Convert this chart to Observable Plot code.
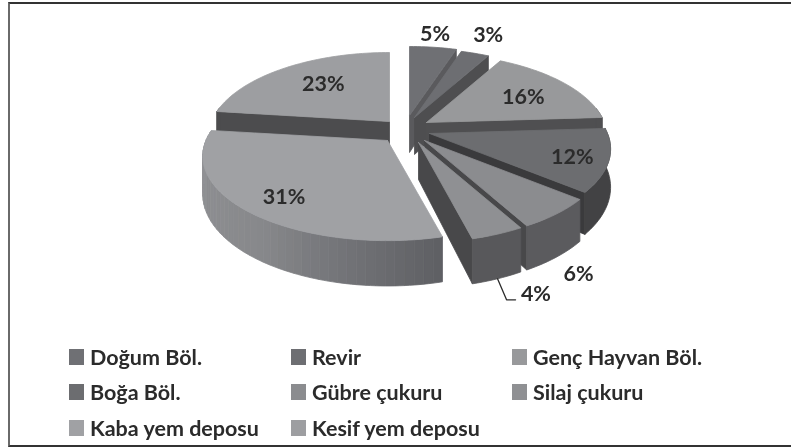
<!DOCTYPE html>
<html>
<head>
<meta charset="utf-8">
<script src="https://cdn.jsdelivr.net/npm/d3@7"></script>
<script src="https://cdn.jsdelivr.net/npm/@observablehq/plot@0.6"></script>
<style>
html,body{margin:0;padding:0;background:#fff;width:791px;height:448px;overflow:hidden;position:relative;font-family:Lato,"Open Sans",sans-serif}
#frame{position:absolute;left:8px;top:2px;right:-4px;height:441px;border:2px solid #333;border-left-color:#6a6a6a;box-sizing:content-box}
#chart{position:absolute;left:0;top:0;filter:blur(0.45px)}
#legend{position:absolute;left:69px;top:339px;display:grid;grid-template-columns:222px 221px 200px;grid-auto-rows:35.5px;color:#2b2b2b;font-weight:700;font-size:21.5px;filter:blur(0.35px)}
#legend .it{display:flex;align-items:center;white-space:nowrap}
#legend .sw{width:15px;height:16px;margin-right:6px;flex:none}
</style>
</head>
<body>
<div id="frame"></div>
<div id="chart"></div>
<div id="legend"></div>
<script>
const categories = ["Doğum Böl.","Revir","Genç Hayvan Böl.","Boğa Böl.","Gübre çukuru","Silaj çukuru","Kaba yem deposu","Kesif yem deposu"];
const shares = [5,3,16,12,6,4,31,23];
const topColors = ["#6f7074","#6d6e72","#98999b","#6c6d70","#8b8c8f","#8f9093","#a0a1a4","#9d9ea1"];
const radialColors = ["#5a5a5d","#4e4e50","#4f4f51","#3a3a3c","#48484a","#48484a","#77787b","#4c4c4e"];
const arcColors = ["#5a5a5d","#4e4e50","#4f4f51","#424244","#5b5b5e","#58585b",null,"#4c4c4e"];
const apexX = [409,414,426,429,424,418,387,389];
const apexY = [115,117,122,133,140,142,140,121];
const radiusScale = [1,1,1,1,1,1,1.02,1];
const labelNudgeX = [10,34,9,34,77,72,-22,1];
const labelNudgeY = [-36,-40,0,7,91,99,15,-2];
const paintOrder = [7,0,1,2,3,4,5,6];

const RX = 178, RY = 81.7, PERSP = 0.184, DEPTH = 37;
function project(i, deg, r = 1, depth = 0) {
  const t = deg * Math.PI / 180;
  const f = 1 / (1 + PERSP * r * Math.cos(t));
  return {
    x: apexX[i] + r * Math.sin(t) * RX * radiusScale[i] * f,
    y: apexY[i] - r * Math.cos(t) * RY * f + depth * f
  };
}
const cum = d3.cumsum(shares);
const startDeg = i => (i ? cum[i - 1] : 0) * 3.6;
const endDeg = i => cum[i] * 3.6;
const arc = (i, a, b, depth) => d3.range(0, 1.0001, 1 / Math.max(2, Math.ceil((b - a) / 1.5)))
  .map(u => project(i, a + (b - a) * u, 1, depth));
const poly = (pts, fill) => Plot.line([...pts, pts[0]], {x: "x", y: "y", fill, stroke: fill, strokeWidth: 0.8, curve: "linear"});
const gradient = d3.scaleLinear().domain([0, 0.55, 0.8, 1]).range(["#939497", "#87888b", "#707175", "#5e5f63"]);

const marks = [];
for (const i of paintOrder) {
  const a = startDeg(i), b = endDeg(i);
  const radial = deg => [project(i, deg, 0), project(i, deg), project(i, deg, 1, DEPTH), project(i, deg, 0, DEPTH)];
  if (a >= 180) marks.push(poly(radial(a), radialColors[i]));
  if (b <= 180) marks.push(poly(radial(b), radialColors[i]));
  const lo = Math.max(a, 80), hi = Math.min(b, 280);
  if (hi > lo) {
    if (arcColors[i]) {
      marks.push(poly([...arc(i, lo, hi, 0), ...arc(i, lo, hi, DEPTH).reverse()], arcColors[i]));
    } else {
      d3.range(lo, hi, 2.5).forEach(s => {
        const e = Math.min(s + 2.5, hi);
        marks.push(poly([...arc(i, s, e, 0), ...arc(i, s, e, DEPTH).reverse()], gradient((hi - (s + e) / 2) / (hi - lo))));
      });
    }
  }
  marks.push(poly([project(i, a, 0), ...arc(i, a, b, 0)], topColors[i]));
}

// percentage labels
shares.forEach((v, i) => {
  const p = project(i, (startDeg(i) + endDeg(i)) / 2, 0.62);
  marks.push(Plot.text([p], {
    x: "x", y: "y", text: () => v + "%", dx: labelNudgeX[i], dy: labelNudgeY[i],
    fontSize: 21.5, fontWeight: 700, fontFamily: "Lato, sans-serif", fill: "#2b2b2b"
  }));
});
// leader line of the 4% label
const leaderStart = project(5, (startDeg(5) + endDeg(5)) / 2, 1, DEPTH);
marks.push(Plot.line([leaderStart, {x: leaderStart.x + 9, y: leaderStart.y + 21}, {x: leaderStart.x + 18, y: leaderStart.y + 21}],
  {x: "x", y: "y", stroke: "#2b2b2b", strokeWidth: 1.3, curve: "linear"}));

const chart = Plot.plot({
  width: 791, height: 335, margin: 0,
  x: {domain: [0, 791], range: [0, 791], axis: null},
  y: {domain: [0, 335], range: [0, 335], axis: null},
  style: {background: "transparent"},
  marks
});
document.getElementById("chart").append(chart);

const legend = document.getElementById("legend");
categories.forEach((c, i) => {
  const it = document.createElement("div"); it.className = "it";
  const sw = document.createElement("span"); sw.className = "sw"; sw.style.background = topColors[i];
  const tx = document.createElement("span"); tx.textContent = c;
  it.append(sw, tx); legend.append(it);
});
</script>
</body>
</html>
